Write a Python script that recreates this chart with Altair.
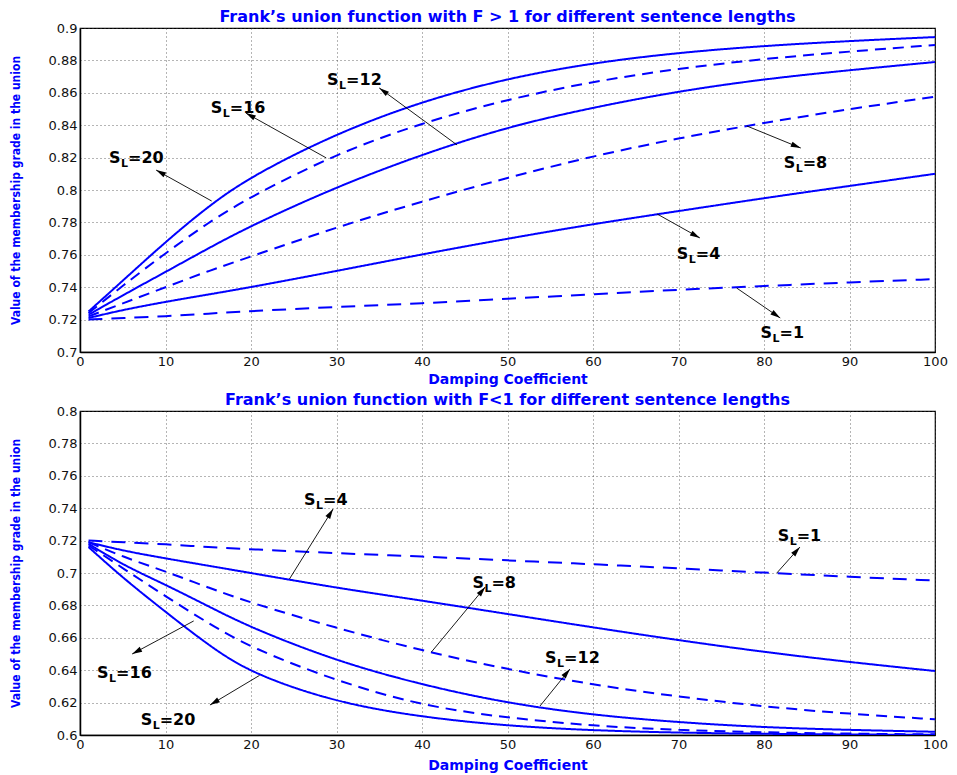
import math
import altair as alt
import pandas as pd

# ---------------- data ----------------
X = [1, 5, 10, 15, 20, 30, 40, 50, 60, 70, 80, 90, 100]
SERIES = ["SL=1", "SL=4", "SL=8", "SL=12", "SL=16", "SL=20"]

# Top panel: F > 1
TOP_SL1 = [0.720, 0.721, 0.722, 0.7237, 0.7253, 0.7278, 0.7300, 0.7329, 0.7356, 0.7385, 0.7407, 0.7430, 0.7450]
TOP_SL4 = [0.721, 0.726, 0.731, 0.7355, 0.740, 0.750, 0.7603, 0.770, 0.779, 0.787, 0.795, 0.8025, 0.810]
TOP_SL8 = [0.722, 0.730, 0.740, 0.750, 0.759, 0.777, 0.793, 0.8076, 0.821, 0.832, 0.8415, 0.850, 0.8576]
TOP_SL12 = [0.723, 0.735, 0.7494, 0.764, 0.778, 0.802, 0.822, 0.839, 0.851, 0.861, 0.8685, 0.874, 0.879]
TOP_SL16 = [0.724, 0.741, 0.761, 0.780, 0.796, 0.8225, 0.8415, 0.856, 0.867, 0.875, 0.881, 0.8855, 0.8895]
TOP_SL20 = [0.725, 0.744, 0.768, 0.790, 0.8085, 0.835, 0.8548, 0.869, 0.8785, 0.8848, 0.889, 0.892, 0.8944]

# Bottom panel: F < 1
BOT_SL1 = [0.720, 0.719, 0.7178, 0.716, 0.7146, 0.7122, 0.7102, 0.7078, 0.7054, 0.7029, 0.7002, 0.6977, 0.6953]
BOT_SL4 = [0.719, 0.7138, 0.709, 0.7045, 0.7000, 0.6908, 0.683, 0.6747, 0.6664, 0.6585, 0.6512, 0.645, 0.6395]
BOT_SL8 = [0.719, 0.710, 0.701, 0.691, 0.6815, 0.666, 0.652, 0.6405, 0.631, 0.6236, 0.6175, 0.613, 0.6097]
BOT_SL12 = [0.718, 0.705, 0.6928, 0.6795, 0.6662, 0.6456, 0.6309, 0.6196, 0.6123, 0.6078, 0.6047, 0.6031, 0.602]
BOT_SL16 = [0.717, 0.703, 0.6856, 0.669, 0.6538, 0.6333, 0.6180, 0.6105, 0.6056, 0.6030, 0.6016, 0.6008, 0.6004]
BOT_SL20 = [0.716, 0.697, 0.676, 0.6555, 0.638, 0.620, 0.611, 0.6056, 0.6028, 0.6014, 0.6007, 0.6003, 0.6001]

# Annotations (data coordinates): label anchor, arrow tail, arrow head
TOP_LAB_TXT = ["=20", "=16", "=12", "=8", "=4", "=1"]
TOP_LAB_X = [3.4, 15.3, 28.9, 82.3, 69.8, 79.6]
TOP_LAB_Y = [0.8198, 0.8506, 0.8679, 0.8167, 0.7605, 0.7117]
TOP_TAIL_X = [15.4, 28.8, 44.1, 78.0, 67.5, 76.8]
TOP_TAIL_Y = [0.7932, 0.8198, 0.8278, 0.8395, 0.7852, 0.7395]
TOP_HEAD_X = [8.9, 19.4, 35.0, 84.3, 72.5, 81.9]
TOP_HEAD_Y = [0.8123, 0.8475, 0.8630, 0.8259, 0.7704, 0.7210]

BOT_LAB_TXT = ["=4", "=1", "=8", "=12", "=16", "=20"]
BOT_LAB_X = [26.2, 81.6, 45.9, 54.4, 2.0, 7.1]
BOT_LAB_Y = [0.7451, 0.7228, 0.6938, 0.6475, 0.6383, 0.6093]
BOT_TAIL_X = [24.5, 81.5, 41.1, 53.8, 13.3, 21.0]
BOT_TAIL_Y = [0.6963, 0.7000, 0.6512, 0.6179, 0.6704, 0.6368]
BOT_HEAD_X = [29.6, 84.2, 47.4, 57.3, 6.1, 15.2]
BOT_HEAD_Y = [0.7395, 0.7160, 0.6914, 0.6407, 0.6500, 0.6185]

TOP_TICKS = [0.7, 0.72, 0.74, 0.76, 0.78, 0.8, 0.82, 0.84, 0.86, 0.88, 0.9]
BOT_TICKS = [0.6, 0.62, 0.64, 0.66, 0.68, 0.7, 0.72, 0.74, 0.76, 0.78, 0.8]
X_TICKS = [0, 10, 20, 30, 40, 50, 60, 70, 80, 90, 100]

TOP_TITLE = "Frank\u2019s union function with F > 1 for different sentence lengths"
BOT_TITLE = "Frank\u2019s union function with F<1 for different sentence lengths"
X_TITLE = "Damping Coefficient"
Y_TITLE = "Value of the membership grade in the union"

BLUE = "#0000ff"
W, H = 855, 324

TOP_DASH = {"SL=1": [14, 9], "SL=4": [1, 0], "SL=8": [11, 7], "SL=12": [1, 0], "SL=16": [11, 7], "SL=20": [1, 0]}
TOP_WIDTH = {"SL=1": 2, "SL=4": 2, "SL=8": 2, "SL=12": 2, "SL=16": 2.4, "SL=20": 2.6}
BOT_DASH = {"SL=1": [14, 9], "SL=4": [1, 0], "SL=8": [11, 7], "SL=12": [1, 0], "SL=16": [8, 5], "SL=20": [1, 0]}
BOT_WIDTH = {"SL=1": 2, "SL=4": 2, "SL=8": 2.4, "SL=12": 2.2, "SL=16": 0.9, "SL=20": 2.6}


def panel(series_vals, ydom, yticks, dash, widths, lab, arrows, title, xpad):
    rows = []
    for name, vals in zip(SERIES, series_vals):
        for xv, yv in zip(X, vals):
            rows.append({"x": xv, "y": yv, "series": name})
    df = pd.DataFrame(rows)

    def xenc(field):
        return alt.X(f"{field}:Q", scale=alt.Scale(domain=[0, 100], nice=False),
                     axis=alt.Axis(values=X_TICKS, title=X_TITLE, labelFlush=False, titlePadding=xpad))

    def yenc(field):
        return alt.Y(f"{field}:Q", scale=alt.Scale(domain=ydom, nice=False, zero=False),
                     axis=alt.Axis(values=yticks, format=".2~f", title=Y_TITLE))

    lines = alt.Chart(df).mark_line(color=BLUE, interpolate="basis", clip=True).encode(
        x=xenc("x"), y=yenc("y"),
        strokeDash=alt.StrokeDash("series:N", scale=alt.Scale(domain=SERIES, range=[dash[s] for s in SERIES]), legend=None),
        strokeWidth=alt.StrokeWidth("series:N", scale=alt.Scale(domain=SERIES, range=[widths[s] for s in SERIES]), legend=None),
    )

    ltxt, lx, ly = lab
    ldf = pd.DataFrame({"lx": lx, "ly": ly, "txt": ltxt})
    base_t = alt.Chart(ldf)
    font = "DejaVu Sans"
    s_mark = base_t.mark_text(text="S", align="left", baseline="middle", font=font, fontWeight="bold",
                              fontSize=16, color="black").encode(x=xenc("lx"), y=yenc("ly"))
    l_mark = base_t.mark_text(text="L", align="left", baseline="middle", font=font, fontWeight="bold",
                              fontSize=11, dx=12, dy=6, color="black").encode(x=xenc("lx"), y=yenc("ly"))
    n_mark = base_t.mark_text(align="left", baseline="middle", font=font, fontWeight="bold",
                              fontSize=16, dx=19, color="black").encode(x=xenc("lx"), y=yenc("ly"), text="txt:N")

    tx, ty, hx, hy = arrows
    ang = []
    for a, b, c, d in zip(tx, ty, hx, hy):
        vx = (c - a) / 100.0 * W
        vy_up = (d - b) / (ydom[1] - ydom[0]) * H
        ang.append(math.degrees(math.atan2(vx, vy_up)) % 360)
    adf = pd.DataFrame({"tx": tx, "ty": ty, "hx": hx, "hy": hy, "ang": ang})
    rules = alt.Chart(adf).mark_rule(color="black", strokeWidth=0.9).encode(
        x=xenc("tx"), y=yenc("ty"), x2="hx:Q", y2="hy:Q")
    heads = alt.Chart(adf).mark_point(shape="M0,0L-0.55,2L0.55,2Z", filled=True, color="black",
                                      opacity=1, size=100, strokeWidth=0).encode(
        x=xenc("hx"), y=yenc("hy"), angle=alt.Angle("ang:Q", scale=None))

    return alt.layer(lines, rules, heads, s_mark, l_mark, n_mark).properties(
        width=W, height=H,
        title=alt.TitleParams(title, font=font, fontWeight="bold", fontSize=16, color=BLUE, offset=-3),
    )


top = panel([TOP_SL1, TOP_SL4, TOP_SL8, TOP_SL12, TOP_SL16, TOP_SL20], [0.7, 0.9], TOP_TICKS,
            TOP_DASH, TOP_WIDTH, (TOP_LAB_TXT, TOP_LAB_X, TOP_LAB_Y),
            (TOP_TAIL_X, TOP_TAIL_Y, TOP_HEAD_X, TOP_HEAD_Y), TOP_TITLE, 4)
bottom = panel([BOT_SL1, BOT_SL4, BOT_SL8, BOT_SL12, BOT_SL16, BOT_SL20], [0.6, 0.8], BOT_TICKS,
               BOT_DASH, BOT_WIDTH, (BOT_LAB_TXT, BOT_LAB_X, BOT_LAB_Y),
               (BOT_TAIL_X, BOT_TAIL_Y, BOT_HEAD_X, BOT_HEAD_Y), BOT_TITLE, 7)

chart = alt.vconcat(top, bottom, spacing=4).properties(padding=0).configure_view(
    stroke="black", strokeWidth=1.2
).configure_axis(
    labelFont="DejaVu Sans", labelFontSize=13, labelColor="#111",
    titleFont="DejaVu Sans", titleFontWeight="bold", titleFontSize=14, titleColor=BLUE,
    grid=True, gridDash=[1, 3], gridColor="#444", gridOpacity=1, gridWidth=0.8,
    domainColor="black", domainWidth=1.5, ticks=False, labelPadding=3,
).configure_axisY(
    titleFont="Liberation Sans Narrow, DejaVu Sans Condensed, Roboto Condensed, Liberation Sans",
    titleFontWeight="bold", titleFontSize=12, titlePadding=26,
)

chart.save("out.html", embed_options={"renderer": "svg", "actions": False})
